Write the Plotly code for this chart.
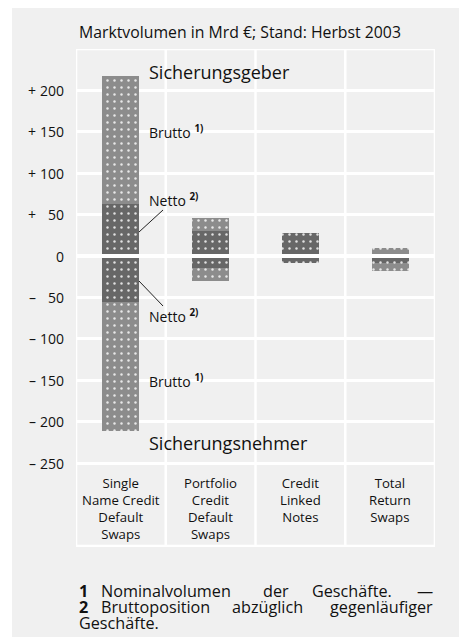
import plotly.graph_objects as go

# ---- data ----
categories = ["Single<br>Name Credit<br>Default<br>Swaps",
              "Portfolio<br>Credit<br>Default<br>Swaps",
              "Credit<br>Linked<br>Notes",
              "Total<br>Return<br>Swaps"]
brutto_geber = [218, 46, 28, 10]
netto_geber = [63, 30, 28, 0]
brutto_nehmer = [-211, -30, -9, -18]
netto_nehmer = [-55, -14, -9, -9]
y_ticks = [200, 150, 100, 50, 0, -50, -100, -150, -200, -250]

title_text = "Marktvolumen in Mrd €; Stand: Herbst 2003"

# ---- geometry helpers (window pixel -> paper); page body has an 8px margin ----
OFF = 8
W, H = 467 - OFF, 637 - OFF
L, R, T, B = 76, 435, 49, 547          # plot area in window pixels
def px(x):
    return (x - L) / (R - L)
def py(y):
    return (B - y) / (B - T)

Y_TOP = 250
Y_BOT = -351.4
xs = list(range(len(categories)))

FONT = "Open Sans"
LIGHT = "#8c8c8c"
DARK = "#676767"
BG = "#f0f0f0"
INK = "#111111"

pattern = dict(shape=".", fgcolor="white", fgopacity=0.8, size=7, solidity=0.1)

fig = go.Figure()
for vals, col in [(brutto_geber, LIGHT), (brutto_nehmer, LIGHT),
                  (netto_geber, DARK), (netto_nehmer, DARK)]:
    fig.add_trace(go.Bar(x=xs, y=vals, width=0.41,
                         marker=dict(color=col, line=dict(width=0), pattern=pattern),
                         showlegend=False, hoverinfo="skip"))

shapes = []
# grey panel background
shapes.append(dict(type="rect", xref="paper", yref="paper",
                   x0=px(12), x1=px(467 + 2), y0=py(637 + 2), y1=py(8),
                   fillcolor=BG, line=dict(width=0), layer="below"))
# vertical separators
for xb in [-0.5, 0.5, 1.5, 2.5, 3.5]:
    shapes.append(dict(type="line", xref="x", yref="y", x0=xb, x1=xb,
                       y0=Y_BOT, y1=Y_TOP, line=dict(color="white", width=2.5),
                       layer="below"))
# top and bottom border
for yb in [Y_TOP, Y_BOT + 1.2]:
    shapes.append(dict(type="line", xref="x", yref="y", x0=-0.5, x1=3.5,
                       y0=yb, y1=yb, line=dict(color="white", width=2.5),
                       layer="below"))
# zero gap line above bars
shapes.append(dict(type="line", xref="x", yref="y", x0=-0.5, x1=3.5,
                   y0=0, y1=0, line=dict(color="white", width=4), layer="above"))

annotations = []
# title
annotations.append(dict(text=title_text, xref="paper", yref="paper",
                        x=px(77), y=py(32), xanchor="left", yanchor="middle",
                        showarrow=False, font=dict(family=FONT, size=15.8, color=INK)))
# y tick labels: sign column + number column
for v in y_ticks:
    if v != 0:
        annotations.append(dict(text="+" if v > 0 else "–", xref="paper", yref="y",
                                x=px(32), y=v, xanchor="center", yanchor="middle",
                                showarrow=False, font=dict(family=FONT, size=14, color=INK)))
    annotations.append(dict(text=str(abs(v)), xref="paper", yref="y",
                            x=px(66), y=v, xanchor="right", yanchor="middle",
                            showarrow=False, font=dict(family=FONT, size=14, color=INK)))
# category labels
for i, c in enumerate(categories):
    annotations.append(dict(text=c, xref="x", yref="paper", x=i, y=py(472),
                            xanchor="center", yanchor="top", showarrow=False,
                            font=dict(family=FONT, size=13.2, color=INK)))
# in-plot labels
big = dict(family=FONT, size=18, color=INK)
mid = dict(family=FONT, size=14, color=INK)
annotations.append(dict(text="Sicherungsgeber", xref="paper", yref="paper",
                        x=px(147), y=py(72), xanchor="left", yanchor="middle",
                        showarrow=False, font=big))
annotations.append(dict(text="Sicherungsnehmer", xref="paper", yref="paper",
                        x=px(147), y=py(443), xanchor="left", yanchor="middle",
                        showarrow=False, font=big))
for label, ycen in [("Brutto <b><sup>1)</sup></b>", 132), ("Netto <b><sup>2)</sup></b>", 200),
                    ("Netto <b><sup>2)</sup></b>", 316), ("Brutto <b><sup>1)</sup></b>", 381)]:
    annotations.append(dict(text=label, xref="paper", yref="paper",
                            x=px(147), y=py(ycen), xanchor="left", yanchor="middle",
                            showarrow=False, font=mid))
# leader lines
for (x0, y0, x1, y1) in [(163, 210, 139, 232), (139, 281, 163, 306)]:
    shapes.append(dict(type="line", xref="paper", yref="paper",
                       x0=px(x0), y0=py(y0), x1=px(x1), y1=py(y1),
                       line=dict(color="#222", width=1)))

# footnotes (justified: word positions)
fn = dict(family=FONT, size=16.2, color=INK)
foot_words = [
    (591, [("<b>1</b>", 77, "left"), ("Nominalvolumen", 99, "left"), ("der", 261, "left"),
           ("Geschäfte.", 310, "left"), ("—", 435, "right")]),
    (607, [("<b>2</b>", 77, "left"), ("Bruttoposition", 99, "left"), ("abzüglich", 230, "left"),
           ("gegenläufiger", 435, "right")]),
    (623, [("Geschäfte.", 77, "left")]),
]
for yc, words in foot_words:
    for w, xp, anc in words:
        annotations.append(dict(text=w, xref="paper", yref="paper", x=px(xp), y=py(yc),
                                xanchor=anc, yanchor="middle", showarrow=False, font=fn))

fig.update_layout(
    width=W, height=H,
    margin=dict(l=L - OFF, r=W - (R - OFF), t=T - OFF, b=H - (B - OFF), pad=0),
    paper_bgcolor="white", plot_bgcolor=BG,
    barmode="overlay", bargap=0,
    xaxis=dict(range=[-0.5, 3.5], showticklabels=False, showgrid=False,
               zeroline=False, showline=False, fixedrange=True),
    yaxis=dict(range=[Y_BOT, Y_TOP], tickvals=y_ticks + [Y_TOP], showticklabels=False,
               showgrid=True, gridcolor="white", gridwidth=2.5, zeroline=False,
               showline=False, fixedrange=True),
    shapes=shapes, annotations=annotations,
    font=dict(family=FONT),
)

fig.write_html("out.html")
